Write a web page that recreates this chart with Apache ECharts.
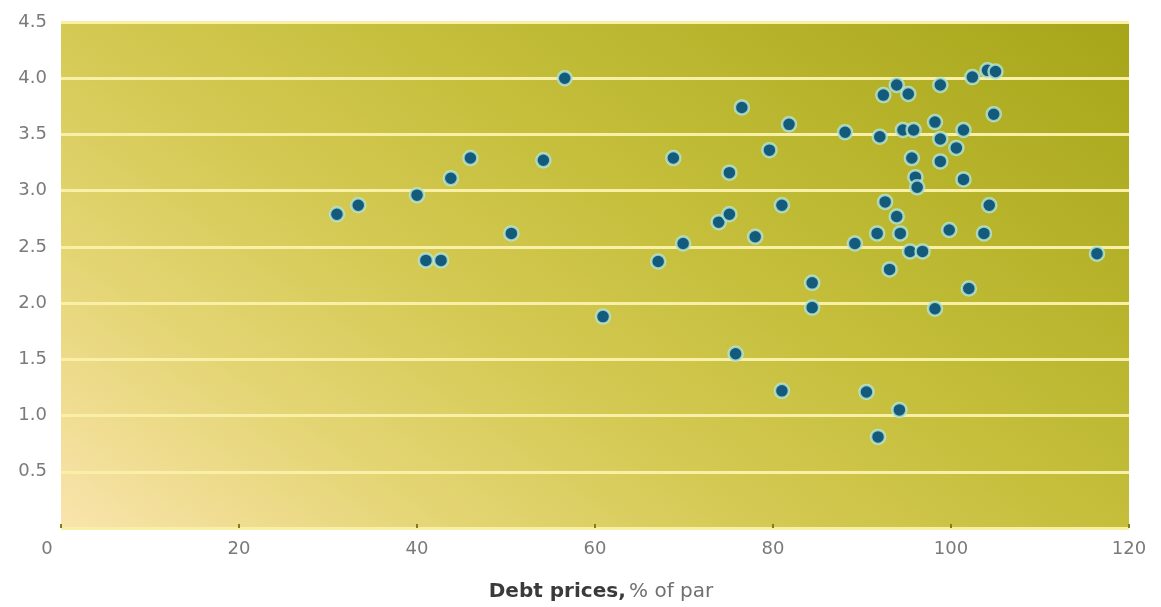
<!DOCTYPE html>
<html>
<head>
<meta charset="utf-8">
<script src="https://cdn.jsdelivr.net/npm/echarts@6/dist/echarts.min.js"></script>
<style>
  html, body { margin: 0; padding: 0; background: #ffffff; }
  #chart { width: 1161px; height: 607px; }
</style>
</head>
<body>
<div id="chart"></div>
<script>
// Debt price (% of par) vs. ratio, one point per issuer
const debtPrices = [
  31.0, 33.4, 40.0, 41.0, 42.7, 43.8, 46.0, 50.6, 54.2, 56.6, 60.9,
  67.1, 68.8, 69.9, 73.9, 75.1, 75.1, 75.8, 76.5, 78.0, 79.6, 81.0, 81.0, 81.8, 84.4, 84.4, 88.1, 89.2,
  90.5, 91.8, 94.2, 92.0, 92.6, 91.7, 93.9, 94.3, 93.1, 92.4, 93.9, 95.2, 94.6, 95.8, 95.6, 96.0, 96.2,
  95.4, 96.8, 98.2, 98.8, 98.2, 98.8, 98.8, 100.6, 101.4, 101.4, 99.8, 102.0, 102.4, 104.1, 105.0,
  104.8, 104.3, 103.7, 116.4
];
const ratios = [
  2.79, 2.87, 2.96, 2.38, 2.38, 3.11, 3.29, 2.62, 3.27, 4.00, 1.88,
  2.37, 3.29, 2.53, 2.72, 2.79, 3.16, 1.55, 3.74, 2.59, 3.36, 2.87, 1.22, 3.59, 2.18, 1.96, 3.52, 2.53,
  1.21, 0.81, 1.05, 3.48, 2.90, 2.62, 2.77, 2.62, 2.30, 3.85, 3.94, 3.86, 3.54, 3.54, 3.29, 3.12, 3.03,
  2.46, 2.46, 1.95, 3.94, 3.61, 3.46, 3.26, 3.38, 3.54, 3.10, 2.65, 2.13, 4.01, 4.07, 4.06,
  3.68, 2.87, 2.62, 2.44
];
const xTicks = { min: 0, max: 120, step: 20 };
const yTicks = { min: 0, max: 4.5, step: 0.5 };
const xAxisTitle = 'Debt prices,';
const xAxisUnit = '% of par';

const points = debtPrices.map((x, i) => [x, ratios[i]]);

const FONT = 'DejaVu Sans, Verdana, sans-serif';
const LABEL_COLOR = '#7a7a7a';

const chart = echarts.init(document.getElementById('chart'));
chart.setOption({
  animation: false,
  backgroundColor: '#ffffff',
  grid: {
    left: 61, right: 32, top: 22, bottom: 79,
    show: true,
    borderWidth: 0,
    // pale cream in the lower-left corner fading to olive in the upper right
    backgroundColor: new echarts.graphic.LinearGradient(0, 1, 0.559, -0.661, [
      { offset: 0, color: '#f9e4ad' },
      { offset: 0.1, color: '#f0dd92' },
      { offset: 0.22, color: '#e4d574' },
      { offset: 0.4, color: '#d4c953' },
      { offset: 0.6, color: '#c4be3a' },
      { offset: 0.8, color: '#b5b229' },
      { offset: 1, color: '#a6a519' }
    ])
  },
  xAxis: {
    type: 'value',
    min: xTicks.min, max: xTicks.max, interval: xTicks.step,
    axisLine: { show: false },
    axisTick: { show: true, inside: true, length: 4, lineStyle: { color: '#857a1c', width: 2 } },
    splitLine: { show: false },
    axisLabel: {
      color: LABEL_COLOR, fontSize: 18, fontFamily: FONT, margin: 12,
      formatter: v => v === 0 ? '{z|0}' : String(v),
      rich: { z: { padding: [0, 28, 0, 0], color: LABEL_COLOR, fontSize: 18, fontFamily: FONT } }
    },
    name: '{b|' + xAxisTitle + '} {n|' + xAxisUnit + '}',
    nameLocation: 'middle',
    nameGap: 54,
    nameTextStyle: {
      rich: {
        b: { fontWeight: 'bold', color: '#3a3a3a', fontSize: 20, fontFamily: FONT, padding: [0, 0, 0, 12] },
        n: { color: '#707070', fontSize: 20, fontFamily: FONT }
      }
    }
  },
  yAxis: {
    type: 'value',
    min: yTicks.min, max: yTicks.max, interval: yTicks.step,
    axisLine: { show: false },
    axisTick: { show: false },
    splitLine: { show: true, lineStyle: { color: '#f8f0a6', width: 3 } },
    axisLabel: {
      color: LABEL_COLOR, fontSize: 18, fontFamily: FONT, margin: 14,
      formatter: v => v === 0 ? '' : v.toFixed(1)
    }
  },
  series: [{
    type: 'scatter',
    data: points,
    symbol: 'circle',
    symbolSize: 14,
    itemStyle: {
      color: '#145a7a',
      borderColor: 'rgba(185,232,215,0.8)',
      borderWidth: 2.5,
      opacity: 1
    }
  }]
});
</script>
</body>
</html>
